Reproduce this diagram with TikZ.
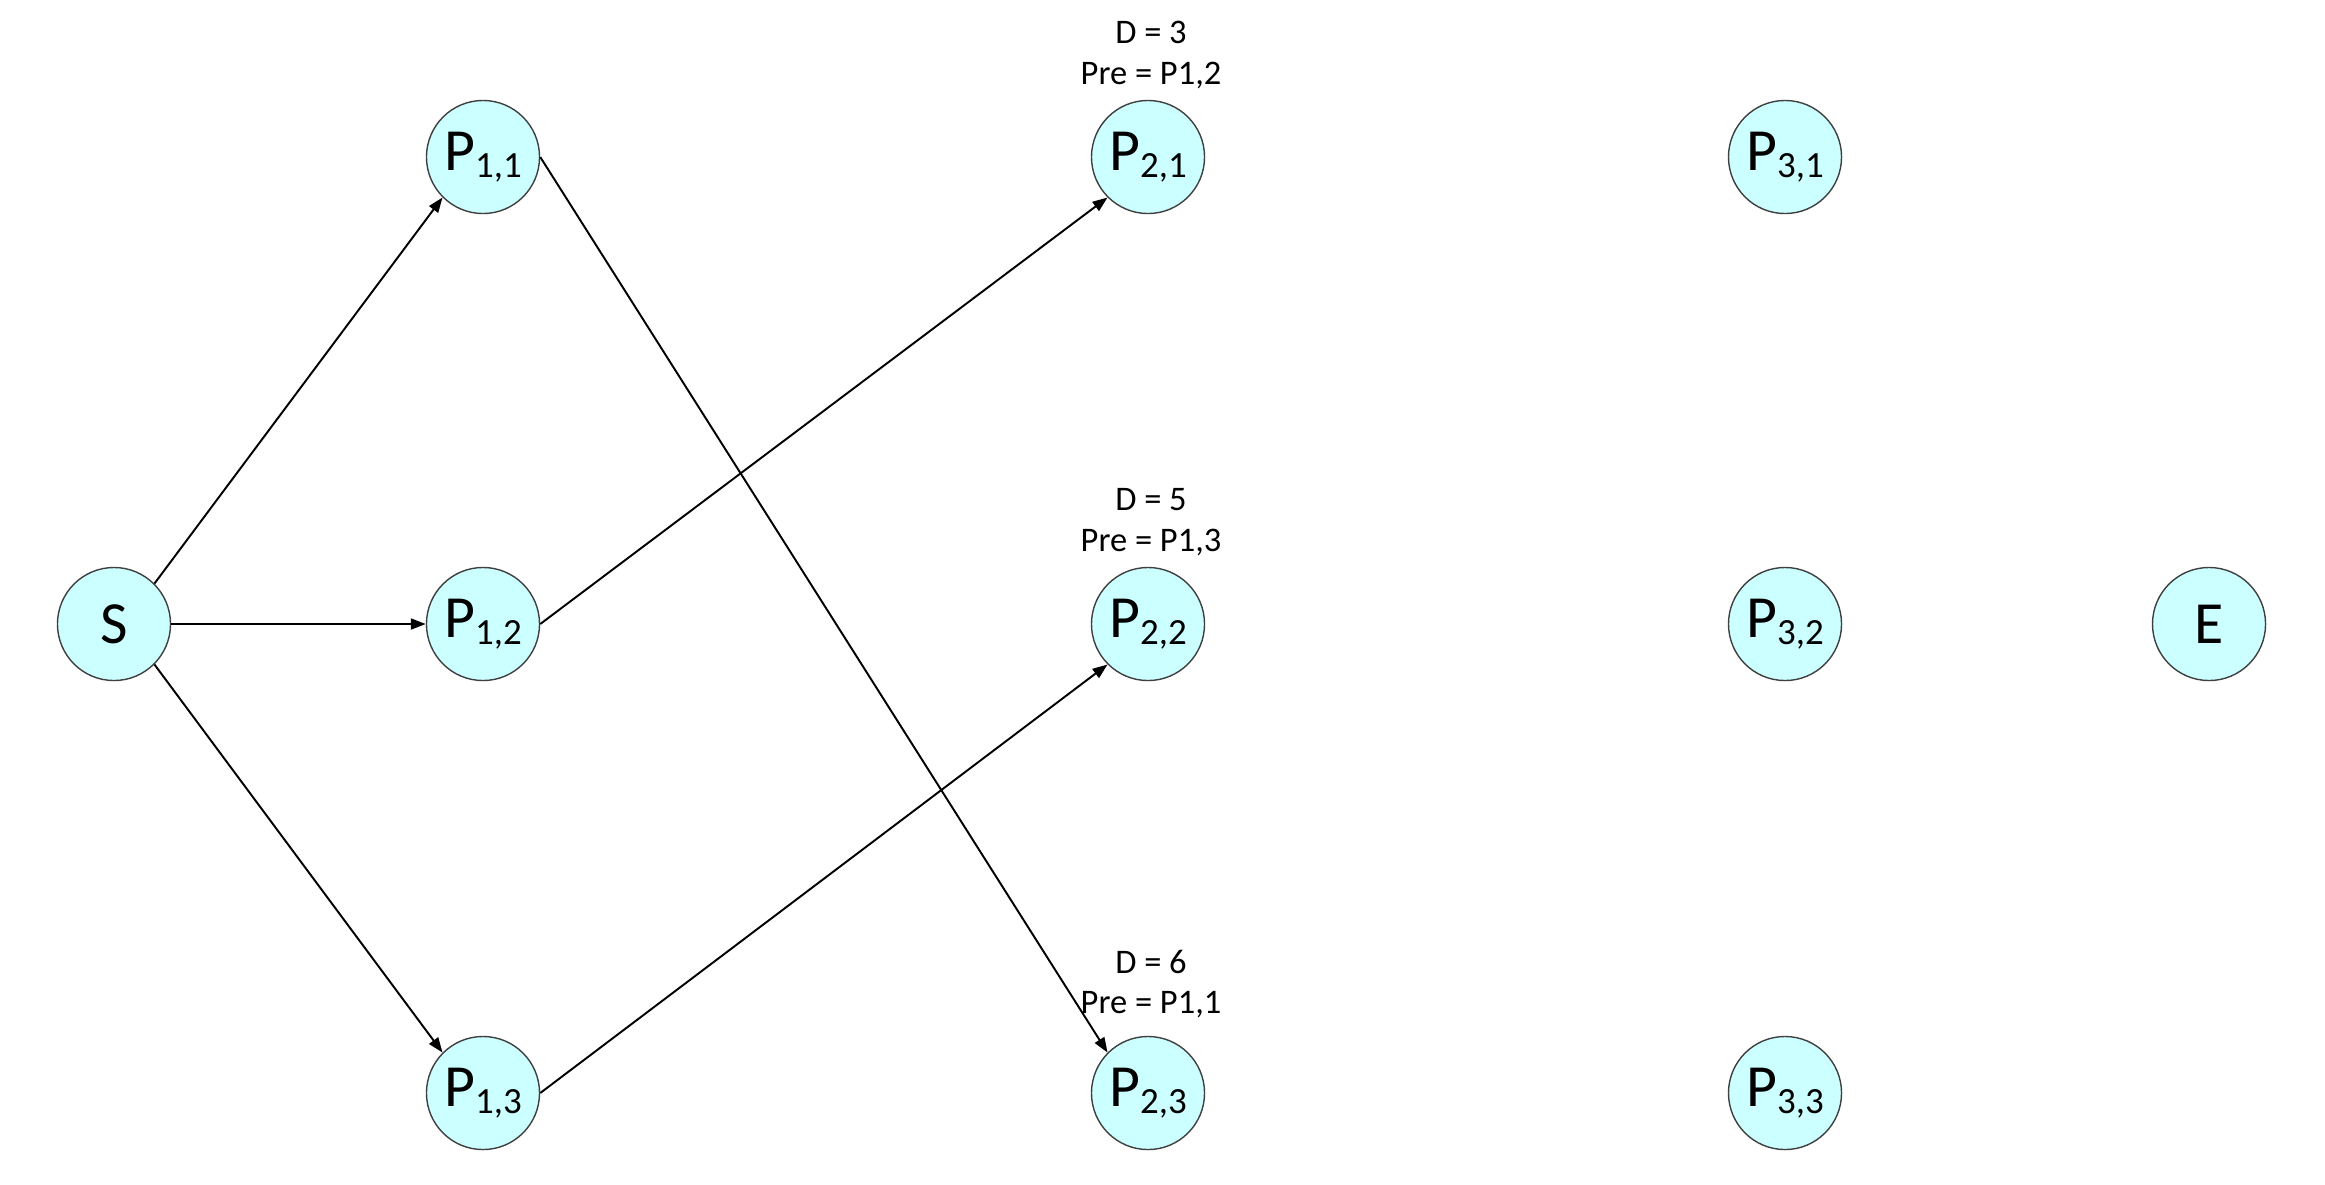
\documentclass[tikz,border=0pt]{standalone}
\usepackage{fontspec}
\setmainfont{Carlito}
\usetikzlibrary{arrows.meta,positioning}
\definecolor{nodefill}{HTML}{CCFFFF}
\definecolor{nodeline}{HTML}{404040}
\newcommand{\pname}[2]{P\raisebox{-0.25ex}{\fontsize{10.5}{12}\selectfont #1,#2}}
\tikzset{
	vertex/.style = {circle, draw = nodeline, line width = 0.4pt, fill = nodefill,
		minimum size = 1.13cm, inner sep = 0pt, font = \fontsize{17}{20}\selectfont},
	info/.style = {align = center, inner sep = 0pt, font = \fontsize{9.8}{11.6}\selectfont},
	edge/.style = {-{Triangle[length=0.15cm, width=0.11cm]}, line width = 0.55pt}
}
\begin{document}
\begin{tikzpicture}[x = 0.01cm, y = -0.01cm]
	\useasboundingbox (0,0) rectangle (2325,1184);
	% start and end
	\node [vertex] (s) at (114,624) {S};
	\node [vertex] (e) at (2209,624) {E};
	% stage 1
	\node [vertex] (p11) at (483,157) {\pname{1}{1}};
	\node [vertex] (p12) at (483,624) {\pname{1}{2}};
	\node [vertex] (p13) at (483,1093) {\pname{1}{3}};
	% stage 2
	\node [vertex] (p21) at (1148,157) {\pname{2}{1}};
	\node [vertex] (p22) at (1148,624) {\pname{2}{2}};
	\node [vertex] (p23) at (1148,1093) {\pname{2}{3}};
	% stage 3
	\node [vertex] (p31) at (1785,157) {\pname{3}{1}};
	\node [vertex] (p32) at (1785,624) {\pname{3}{2}};
	\node [vertex] (p33) at (1785,1093) {\pname{3}{3}};
	% distances
	\node [info] (d21) at (1151,55) {D = 3\\Pre = P1,2};
	\node [info] (d22) at (1151,522) {D = 5\\Pre = P1,3};
	\node [info] (d23) at (1151,984) {D = 6\\Pre = P1,1};
	% edges
	\draw [edge] (s.north east) -- (p11.south west);
	\draw [edge] (s.east) -- (p12.west);
	\draw [edge] (s.south east) -- (p13.north west);
	\draw [edge] (p12.east) -- (p21.south west);
	\draw [edge] (p13.east) -- (p22.south west);
	\draw [edge] (p11.east) -- (p23.north west);
\end{tikzpicture}
\end{document}
